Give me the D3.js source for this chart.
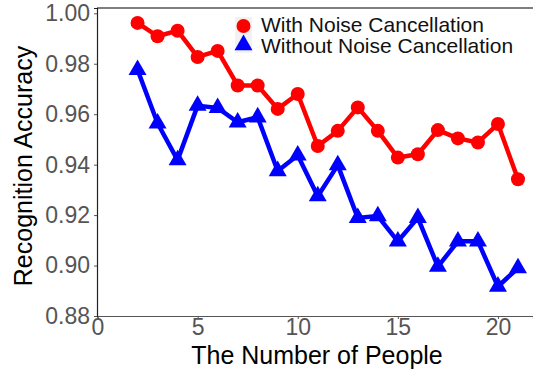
<!DOCTYPE html>
<html>
<head>
<meta charset="utf-8">
<script src="https://cdn.jsdelivr.net/npm/d3@7"></script>
<style>
  body { margin: 0; background: #fff; }
  svg { display: block; font-family: "Liberation Sans", Arial, sans-serif; }
</style>
</head>
<body>
<svg id="chart"></svg>
<script>
// Data
const people = [2, 3, 4, 5, 6, 7, 8, 9, 10, 11, 12, 13, 14, 15, 16, 17, 18, 19, 20, 21];
const withNC = [0.9962, 0.9909, 0.9931, 0.9827, 0.9851, 0.9714, 0.9714, 0.9621, 0.9680, 0.9474,
                0.9534, 0.9627, 0.9534, 0.9428, 0.9441, 0.9537, 0.9504, 0.9488, 0.9561, 0.9342];
const withoutNC = [0.9776, 0.9564, 0.9418, 0.9634, 0.9625, 0.9568, 0.9588, 0.9375, 0.9437, 0.9275,
                   0.9398, 0.9189, 0.9196, 0.9096, 0.9189, 0.8996, 0.9096, 0.9096, 0.8917, 0.8990];
const xTicks = [0, 5, 10, 15, 20];
const yTicks = [0.88, 0.90, 0.92, 0.94, 0.96, 0.98, 1.00];
const seriesNames = ["With Noise Cancellation", "Without Noise Cancellation"];

// Setting up the svg
const width = 533;
const height = 370;
const panel = { left: 97, right: 533, top: 8, bottom: 316 };

const svg = d3.select("#chart")
    .attr("width", width)
    .attr("height", height);

// Scales
const xScale = d3.scaleLinear()
    .domain([0, 21.75])
    .range([panel.left + 0.5, panel.right]);

const yScale = d3.scaleLinear()
    .domain([0.88, 1.0021])
    .range([panel.bottom, panel.top]);

// Axes
const xAxis = d3.axisBottom(xScale).tickValues(xTicks).tickSize(3).tickPadding(0).tickFormat(d3.format("d"));
const yAxis = d3.axisLeft(yScale).tickValues(yTicks).tickSize(3).tickPadding(4).tickFormat(d3.format(".2f"));

const gx = svg.append("g")
    .attr("transform", `translate(0,${panel.bottom})`)
    .call(xAxis);
gx.select(".domain").attr("stroke", "#555").attr("stroke-width", 1.2);
gx.selectAll(".tick line").attr("stroke", "#555");
gx.selectAll(".tick text")
    .style("font-size", "23px")
    .style("fill", "#555");

const gy = svg.append("g")
    .attr("transform", `translate(${panel.left},0)`)
    .call(yAxis);
gy.select(".domain").attr("stroke", "#222").attr("stroke-width", 1.2);
gy.selectAll(".tick line").attr("stroke", "#555");
gy.selectAll(".tick text")
    .style("font-size", "23px")
    .style("fill", "#555");

// Top border
svg.append("line")
    .attr("x1", panel.left)
    .attr("x2", panel.right)
    .attr("y1", panel.top)
    .attr("y2", panel.top)
    .attr("stroke", "#000")
    .attr("stroke-width", 1.2);

// Lines
const makeLine = values => d3.line()
    .x((d, i) => xScale(people[i]))
    .y(d => yScale(d))(values);

svg.append("path")
    .attr("d", makeLine(withNC))
    .attr("fill", "none")
    .attr("stroke", "#ff0000")
    .attr("stroke-width", 4.5)
    .attr("stroke-linejoin", "round");

svg.append("path")
    .attr("d", makeLine(withoutNC))
    .attr("fill", "none")
    .attr("stroke", "#0000ff")
    .attr("stroke-width", 4.5)
    .attr("stroke-linejoin", "round");

// Points
svg.append("g").selectAll("circle")
    .data(withNC)
    .join("circle")
    .attr("cx", (d, i) => xScale(people[i]))
    .attr("cy", d => yScale(d))
    .attr("r", 7)
    .attr("fill", "#ff0000");

const tri = d3.symbol().type(d3.symbolTriangle).size(140);
svg.append("g").selectAll("path")
    .data(withoutNC)
    .join("path")
    .attr("d", tri)
    .attr("transform", (d, i) => `translate(${xScale(people[i])},${yScale(d)})`)
    .attr("fill", "#0000ff");

// Axis titles
svg.append("text")
    .attr("x", 317)
    .attr("y", 364)
    .attr("text-anchor", "middle")
    .style("font-size", "25px")
    .style("fill", "#000")
    .text("The Number of People");

svg.append("text")
    .attr("transform", "rotate(-90)")
    .attr("x", -166)
    .attr("y", 32)
    .attr("text-anchor", "middle")
    .style("font-size", "25px")
    .style("fill", "#000")
    .text("Recognition Accuracy");

// Legend
const legend = svg.append("g")
    .attr("transform", "translate(235,17)");

legend.selectAll("rect")
    .data(seriesNames)
    .join("rect")
    .attr("x", 0)
    .attr("y", (d, i) => i * 18)
    .attr("width", 17)
    .attr("height", 18)
    .attr("fill", "#f2f2f2");

legend.append("circle")
    .attr("cx", 8.5)
    .attr("cy", 9)
    .attr("r", 7)
    .attr("fill", "#ff0000");

legend.append("path")
    .attr("d", tri)
    .attr("transform", "translate(8.5,28)")
    .attr("fill", "#0000ff");

legend.selectAll("text")
    .data(seriesNames)
    .join("text")
    .attr("x", 26)
    .attr("y", (d, i) => 15 + i * 21)
    .style("font-size", "21px")
    .style("fill", "#111")
    .text(d => d);
</script>
</body>
</html>
